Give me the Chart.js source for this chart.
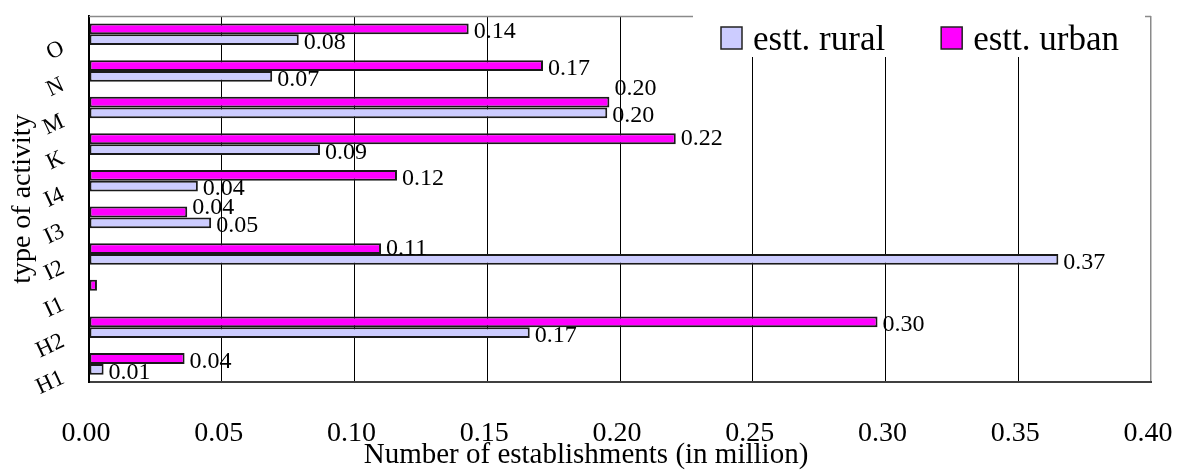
<!DOCTYPE html>
<html>
<head>
<meta charset="utf-8">
<script src="https://cdn.jsdelivr.net/npm/chart.js@4/dist/chart.umd.min.js"></script>
<style>
  html, body { margin: 0; padding: 0; background: #ffffff; }
  #wrap { width: 1180px; height: 472px; position: relative; }
</style>
</head>
<body>
<div id="wrap"><canvas id="c" width="1180" height="472"></canvas></div>
<script>
// ---- data (top to bottom as shown) ----
const categories = ['O', 'N', 'M', 'K', 'I4', 'I3', 'I2', 'I1', 'H2', 'H1'];
const urbanLabel = 'estt. urban';
const ruralLabel = 'estt. rural';
const urbanValues = [0.143, 0.171, 0.196, 0.221, 0.116, 0.037, 0.110, 0.003, 0.297, 0.036];
const ruralValues = [0.079, 0.069, 0.1952, 0.087, 0.041, 0.046, 0.3651, null, 0.166, 0.0055];
const xTickLabels = ['0.00', '0.05', '0.10', '0.15', '0.20', '0.25', '0.30', '0.35', '0.40'];
const xTitle = 'Number of establishments (in million)';
const yTitle = 'type of activity';

const SERIF = '"Liberation Serif", "Times New Roman", serif';

// value labels next to the bar ends
const valueLabels = {
  id: 'valueLabels',
  afterDatasetsDraw(chart, args, opts) {
    const ctx = chart.ctx;
    ctx.save();
    ctx.font = '24px ' + SERIF;
    ctx.fillStyle = '#000';
    ctx.textAlign = 'left';
    ctx.textBaseline = 'middle';
    chart.data.datasets.forEach((ds, di) => {
      const meta = chart.getDatasetMeta(di);
      meta.data.forEach((el, i) => {
        const v = ds.data[i];
        if (v == null || v < 0.005) return;
        const nudge = (opts.nudge[di] && opts.nudge[di][i] !== undefined) ? opts.nudge[di][i] : opts.dy;
        ctx.fillText(v.toFixed(2), el.x + opts.dx, el.y + nudge);
      });
    });
    ctx.restore();
  }
};

// plot frame (top edge) drawn under the bars
const frame = {
  id: 'frame',
  beforeDatasetsDraw(chart) {
    const { ctx, chartArea: a } = chart;
    ctx.save();
    ctx.strokeStyle = '#8a8a8a';
    ctx.lineWidth = 1.5;
    ctx.beginPath();
    ctx.moveTo(a.left, a.top + 0.5);
    ctx.lineTo(a.right, a.top + 0.5);
    ctx.stroke();
    ctx.restore();
  }
};

// legend panel inside the plot, rural first then urban
const panelLegend = {
  id: 'panelLegend',
  afterDatasetsDraw(chart) {
    const { ctx, chartArea: a } = chart;
    ctx.save();
    ctx.fillStyle = '#ffffff';
    ctx.fillRect(a.right - 458, a.top - 3, 452, 44);
    ctx.font = '35px ' + SERIF;
    ctx.textBaseline = 'alphabetic';
    ctx.textAlign = 'left';
    let x = a.right - 430;
    [1, 0].forEach(di => {
      const ds = chart.data.datasets[di];
      ctx.fillStyle = ds.backgroundColor;
      ctx.fillRect(x, a.top + 11, 21, 22);
      ctx.strokeStyle = '#222';
      ctx.lineWidth = 1.5;
      ctx.strokeRect(x, a.top + 11, 21, 22);
      ctx.fillStyle = '#000';
      ctx.fillText(ds.label, x + 32, a.top + 34);
      x += 32 + ctx.measureText(ds.label).width + 56;
    });
    ctx.restore();
  }
};

new Chart(document.getElementById('c'), {
  type: 'bar',
  data: {
    labels: categories,
    datasets: [
      {
        label: urbanLabel,
        data: urbanValues,
        backgroundColor: '#FF00FF',
        borderColor: '#1a1a1a',
        borderWidth: 2,
        borderSkipped: false
      },
      {
        label: ruralLabel,
        data: ruralValues,
        backgroundColor: '#CCCCFF',
        borderColor: '#1a1a1a',
        borderWidth: 2,
        borderSkipped: false
      }
    ]
  },
  options: {
    indexAxis: 'y',
    responsive: false,
    animation: false,
    devicePixelRatio: 1,
    categoryPercentage: 0.59,
    barPercentage: 1.0,
    layout: { padding: { left: 21, right: 29, top: 16, bottom: 0 } },
    scales: {
      x: {
        type: 'linear',
        min: 0,
        max: 0.4,
        ticks: {
          stepSize: 0.05,
          callback: (v, i) => xTickLabels[i],
          font: { family: SERIF, size: 28 },
          color: '#000',
          padding: 35,
          labelOffset: -3,
          maxRotation: 0,
          autoSkip: false
        },
        grid: {
          color: (c) => (c.tick && c.tick.value > 0.399) ? '#8a8a8a' : '#000000',
          lineWidth: (c) => (c.tick && c.tick.value > 0.399) ? 1.5 : 1,
          drawTicks: false
        },
        border: { display: true, color: '#404040', width: 2 },
        afterFit(s) { s.height = 70; s.paddingLeft = 0; s.paddingRight = 0; }
      },
      y: {
        type: 'category',
        offset: true,
        grid: { display: false, drawTicks: false },
        border: { display: true, color: '#000', width: 2 },
        ticks: {
          font: { family: SERIF, size: 23 },
          color: '#000',
          padding: 26,
          minRotation: 25,
          maxRotation: 25,
          labelOffset: 13,
          autoSkip: false
        },
        title: {
          display: true,
          text: yTitle,
          font: { family: SERIF, size: 28 },
          color: '#000',
          padding: { top: -15, bottom: 0 }
        },
        afterFit(s) { s.width = 68; s.paddingTop = 0; s.paddingBottom = 0; }
      }
    },
    plugins: {
      legend: { display: false },
      tooltip: { enabled: false },
      title: {
        display: true,
        position: 'bottom',
        text: xTitle,
        font: { family: SERIF, size: 29, weight: 'normal' },
        color: '#000',
        padding: { top: -14, bottom: -1 }
      },
      valueLabels: {
        dx: 5,
        dy: 3,
        nudge: { 0: { 2: -13, 3: 0, 5: -4, 6: 0 } }
      }
    }
  },
  plugins: [frame, valueLabels, panelLegend]
});
</script>
</body>
</html>
